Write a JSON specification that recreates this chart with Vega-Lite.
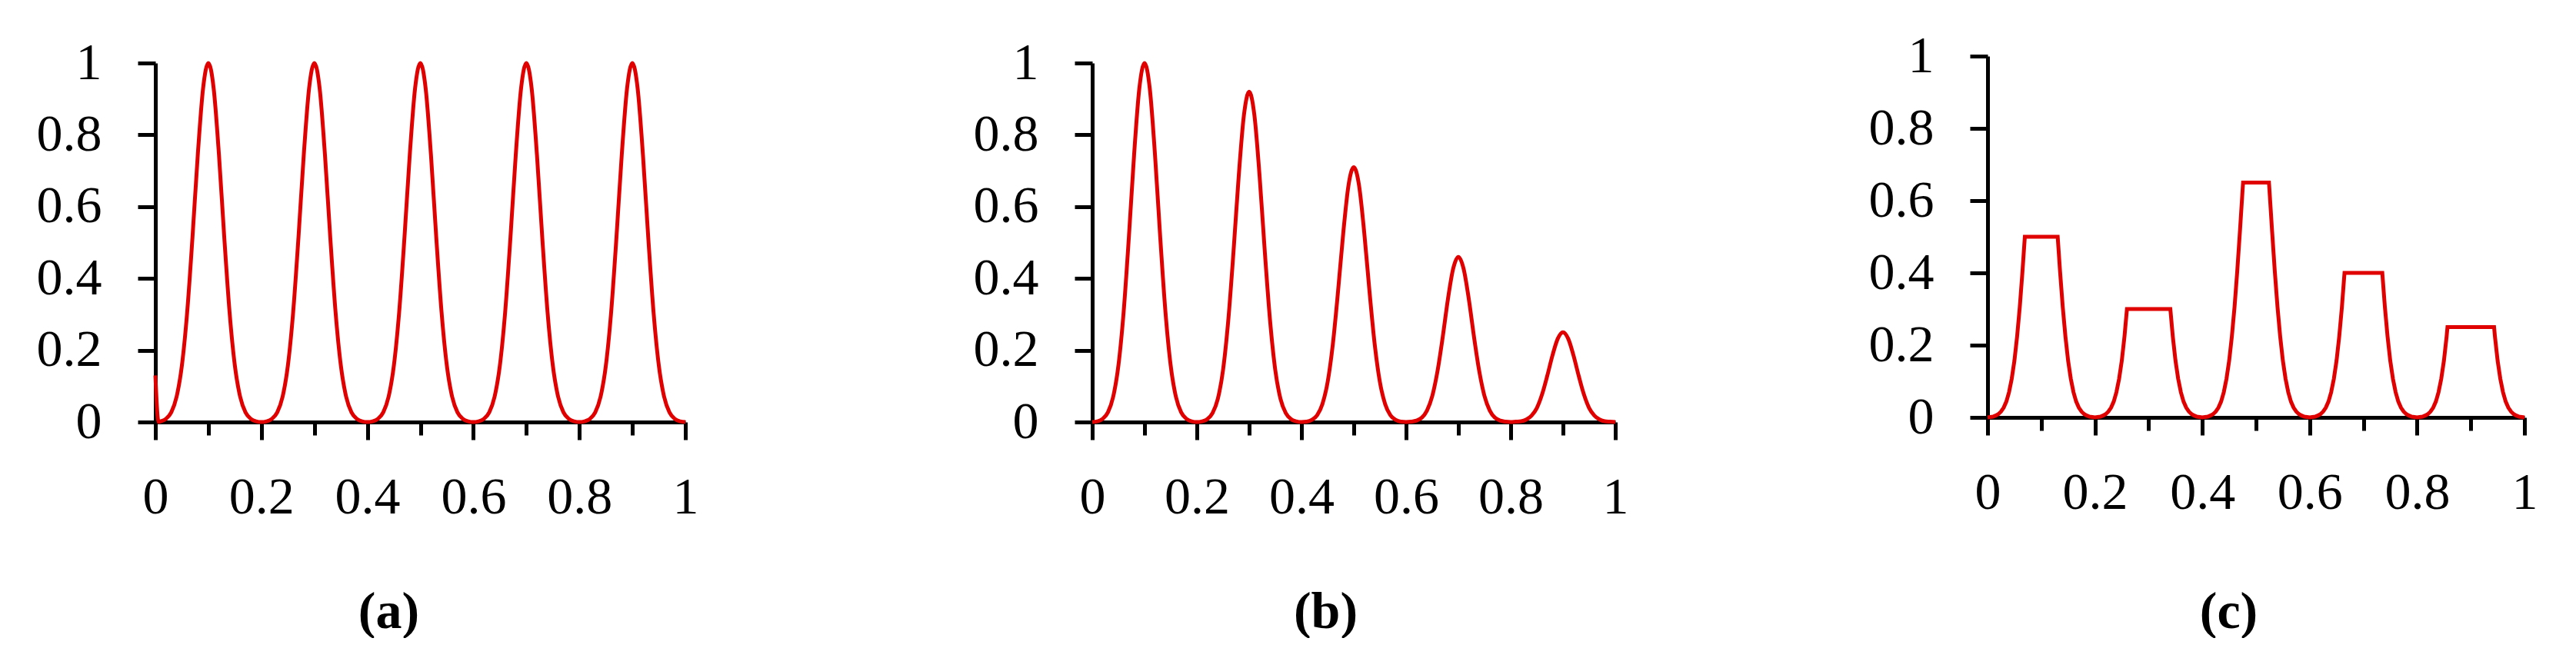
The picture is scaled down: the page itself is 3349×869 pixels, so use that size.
{
  "$schema": "https://vega.github.io/schema/vega-lite/v6.json",
  "description": "Three pulse trains: equal peaks, decaying peaks, clipped peaks.",
  "background": "white",
  "padding": {"left": 47, "top": 39, "right": 0, "bottom": 0},
  "config": {
    "view": {"stroke": null},
    "axis": {
      "grid": false,
      "domainColor": "black",
      "domainWidth": 5,
      "tickColor": "black",
      "tickWidth": 5,
      "labelColor": "black",
      "labelFont": "Liberation Serif",
      "labelFontSize": 68,
      "titleFont": "Liberation Serif",
      "titleFontSize": 68,
      "titleFontWeight": "bold",
      "titleColor": "black"
    }
  },
  "datasets": {
    "a": [
      {"x": 0, "y": 0.13}, {"x": 0.006, "y": 0}, {"x": 0.01, "y": 0.002}, {"x": 0.02, "y": 0.009}, {"x": 0.03, "y": 0.027},
      {"x": 0.04, "y": 0.07}, {"x": 0.05, "y": 0.157}, {"x": 0.06, "y": 0.306}, {"x": 0.07, "y": 0.514}, {"x": 0.08, "y": 0.744},
      {"x": 0.09, "y": 0.929}, {"x": 0.1, "y": 1}, {"x": 0.11, "y": 0.929}, {"x": 0.12, "y": 0.744}, {"x": 0.13, "y": 0.514},
      {"x": 0.14, "y": 0.306}, {"x": 0.15, "y": 0.157}, {"x": 0.16, "y": 0.07}, {"x": 0.17, "y": 0.027}, {"x": 0.18, "y": 0.009},
      {"x": 0.19, "y": 0.002}, {"x": 0.2, "y": 0},
      {"x": 0.21, "y": 0.002}, {"x": 0.22, "y": 0.009}, {"x": 0.23, "y": 0.027}, {"x": 0.24, "y": 0.07}, {"x": 0.25, "y": 0.157},
      {"x": 0.26, "y": 0.306}, {"x": 0.27, "y": 0.514}, {"x": 0.28, "y": 0.744}, {"x": 0.29, "y": 0.929}, {"x": 0.3, "y": 1},
      {"x": 0.31, "y": 0.929}, {"x": 0.32, "y": 0.744}, {"x": 0.33, "y": 0.514}, {"x": 0.34, "y": 0.306}, {"x": 0.35, "y": 0.157},
      {"x": 0.36, "y": 0.07}, {"x": 0.37, "y": 0.027}, {"x": 0.38, "y": 0.009}, {"x": 0.39, "y": 0.002}, {"x": 0.4, "y": 0},
      {"x": 0.41, "y": 0.002}, {"x": 0.42, "y": 0.009}, {"x": 0.43, "y": 0.027}, {"x": 0.44, "y": 0.07}, {"x": 0.45, "y": 0.157},
      {"x": 0.46, "y": 0.306}, {"x": 0.47, "y": 0.514}, {"x": 0.48, "y": 0.744}, {"x": 0.49, "y": 0.929}, {"x": 0.5, "y": 1},
      {"x": 0.51, "y": 0.929}, {"x": 0.52, "y": 0.744}, {"x": 0.53, "y": 0.514}, {"x": 0.54, "y": 0.306}, {"x": 0.55, "y": 0.157},
      {"x": 0.56, "y": 0.07}, {"x": 0.57, "y": 0.027}, {"x": 0.58, "y": 0.009}, {"x": 0.59, "y": 0.002}, {"x": 0.6, "y": 0},
      {"x": 0.61, "y": 0.002}, {"x": 0.62, "y": 0.009}, {"x": 0.63, "y": 0.027}, {"x": 0.64, "y": 0.07}, {"x": 0.65, "y": 0.157},
      {"x": 0.66, "y": 0.306}, {"x": 0.67, "y": 0.514}, {"x": 0.68, "y": 0.744}, {"x": 0.69, "y": 0.929}, {"x": 0.7, "y": 1},
      {"x": 0.71, "y": 0.929}, {"x": 0.72, "y": 0.744}, {"x": 0.73, "y": 0.514}, {"x": 0.74, "y": 0.306}, {"x": 0.75, "y": 0.157},
      {"x": 0.76, "y": 0.07}, {"x": 0.77, "y": 0.027}, {"x": 0.78, "y": 0.009}, {"x": 0.79, "y": 0.002}, {"x": 0.8, "y": 0},
      {"x": 0.81, "y": 0.002}, {"x": 0.82, "y": 0.009}, {"x": 0.83, "y": 0.027}, {"x": 0.84, "y": 0.07}, {"x": 0.85, "y": 0.157},
      {"x": 0.86, "y": 0.306}, {"x": 0.87, "y": 0.514}, {"x": 0.88, "y": 0.744}, {"x": 0.89, "y": 0.929}, {"x": 0.9, "y": 1},
      {"x": 0.91, "y": 0.929}, {"x": 0.92, "y": 0.744}, {"x": 0.93, "y": 0.514}, {"x": 0.94, "y": 0.306}, {"x": 0.95, "y": 0.157},
      {"x": 0.96, "y": 0.07}, {"x": 0.97, "y": 0.027}, {"x": 0.98, "y": 0.009}, {"x": 0.99, "y": 0.002}, {"x": 1, "y": 0}
    ],
    "b": [
      {"x": 0, "y": 0}, {"x": 0.01, "y": 0.002}, {"x": 0.02, "y": 0.009}, {"x": 0.03, "y": 0.027},
      {"x": 0.04, "y": 0.07}, {"x": 0.05, "y": 0.157}, {"x": 0.06, "y": 0.306}, {"x": 0.07, "y": 0.514}, {"x": 0.08, "y": 0.744},
      {"x": 0.09, "y": 0.929}, {"x": 0.1, "y": 1}, {"x": 0.11, "y": 0.929}, {"x": 0.12, "y": 0.744}, {"x": 0.13, "y": 0.514},
      {"x": 0.14, "y": 0.306}, {"x": 0.15, "y": 0.157}, {"x": 0.16, "y": 0.07}, {"x": 0.17, "y": 0.027}, {"x": 0.18, "y": 0.009},
      {"x": 0.19, "y": 0.002}, {"x": 0.2, "y": 0},
      {"x": 0.21, "y": 0.002}, {"x": 0.22, "y": 0.008}, {"x": 0.23, "y": 0.025}, {"x": 0.24, "y": 0.064}, {"x": 0.25, "y": 0.144},
      {"x": 0.26, "y": 0.282}, {"x": 0.27, "y": 0.473}, {"x": 0.28, "y": 0.684}, {"x": 0.29, "y": 0.855}, {"x": 0.3, "y": 0.92},
      {"x": 0.31, "y": 0.855}, {"x": 0.32, "y": 0.684}, {"x": 0.33, "y": 0.473}, {"x": 0.34, "y": 0.282}, {"x": 0.35, "y": 0.144},
      {"x": 0.36, "y": 0.064}, {"x": 0.37, "y": 0.025}, {"x": 0.38, "y": 0.008}, {"x": 0.39, "y": 0.002}, {"x": 0.4, "y": 0},
      {"x": 0.41, "y": 0.001}, {"x": 0.42, "y": 0.006}, {"x": 0.43, "y": 0.019}, {"x": 0.44, "y": 0.05}, {"x": 0.45, "y": 0.111},
      {"x": 0.46, "y": 0.217}, {"x": 0.47, "y": 0.365}, {"x": 0.48, "y": 0.528}, {"x": 0.49, "y": 0.66}, {"x": 0.5, "y": 0.71},
      {"x": 0.51, "y": 0.66}, {"x": 0.52, "y": 0.528}, {"x": 0.53, "y": 0.365}, {"x": 0.54, "y": 0.217}, {"x": 0.55, "y": 0.111},
      {"x": 0.56, "y": 0.05}, {"x": 0.57, "y": 0.019}, {"x": 0.58, "y": 0.006}, {"x": 0.59, "y": 0.001}, {"x": 0.6, "y": 0},
      {"x": 0.61, "y": 0.001}, {"x": 0.62, "y": 0.004}, {"x": 0.63, "y": 0.012}, {"x": 0.64, "y": 0.032}, {"x": 0.65, "y": 0.072},
      {"x": 0.66, "y": 0.141}, {"x": 0.67, "y": 0.236}, {"x": 0.68, "y": 0.342}, {"x": 0.69, "y": 0.427}, {"x": 0.7, "y": 0.46},
      {"x": 0.71, "y": 0.427}, {"x": 0.72, "y": 0.342}, {"x": 0.73, "y": 0.236}, {"x": 0.74, "y": 0.141}, {"x": 0.75, "y": 0.072},
      {"x": 0.76, "y": 0.032}, {"x": 0.77, "y": 0.012}, {"x": 0.78, "y": 0.004}, {"x": 0.79, "y": 0.001}, {"x": 0.8, "y": 0},
      {"x": 0.81, "y": 0.001}, {"x": 0.82, "y": 0.002}, {"x": 0.83, "y": 0.007}, {"x": 0.84, "y": 0.018}, {"x": 0.85, "y": 0.039},
      {"x": 0.86, "y": 0.077}, {"x": 0.87, "y": 0.129}, {"x": 0.88, "y": 0.186}, {"x": 0.89, "y": 0.232}, {"x": 0.9, "y": 0.25},
      {"x": 0.91, "y": 0.232}, {"x": 0.92, "y": 0.186}, {"x": 0.93, "y": 0.129}, {"x": 0.94, "y": 0.077}, {"x": 0.95, "y": 0.039},
      {"x": 0.96, "y": 0.018}, {"x": 0.97, "y": 0.007}, {"x": 0.98, "y": 0.002}, {"x": 0.99, "y": 0.001}, {"x": 1, "y": 0}
    ],
    "c": [
      {"x": 0, "y": 0}, {"x": 0.005, "y": 0.001}, {"x": 0.01, "y": 0.002}, {"x": 0.015, "y": 0.005}, {"x": 0.02, "y": 0.009},
      {"x": 0.025, "y": 0.016}, {"x": 0.03, "y": 0.027}, {"x": 0.035, "y": 0.044}, {"x": 0.04, "y": 0.07}, {"x": 0.045, "y": 0.107},
      {"x": 0.05, "y": 0.157}, {"x": 0.055, "y": 0.224}, {"x": 0.06, "y": 0.306}, {"x": 0.065, "y": 0.404}, {"x": 0.0694, "y": 0.5},
      {"x": 0.1306, "y": 0.5}, {"x": 0.135, "y": 0.404}, {"x": 0.14, "y": 0.306}, {"x": 0.145, "y": 0.224}, {"x": 0.15, "y": 0.157},
      {"x": 0.155, "y": 0.107}, {"x": 0.16, "y": 0.07}, {"x": 0.165, "y": 0.044}, {"x": 0.17, "y": 0.027}, {"x": 0.175, "y": 0.016},
      {"x": 0.18, "y": 0.009}, {"x": 0.185, "y": 0.005}, {"x": 0.19, "y": 0.002}, {"x": 0.195, "y": 0.001}, {"x": 0.2, "y": 0},
      {"x": 0.205, "y": 0.001}, {"x": 0.21, "y": 0.002}, {"x": 0.215, "y": 0.005}, {"x": 0.22, "y": 0.009}, {"x": 0.225, "y": 0.016},
      {"x": 0.23, "y": 0.027}, {"x": 0.235, "y": 0.044}, {"x": 0.24, "y": 0.07}, {"x": 0.245, "y": 0.107}, {"x": 0.25, "y": 0.157},
      {"x": 0.255, "y": 0.224}, {"x": 0.2596, "y": 0.3}, {"x": 0.3404, "y": 0.3}, {"x": 0.345, "y": 0.224}, {"x": 0.35, "y": 0.157},
      {"x": 0.355, "y": 0.107}, {"x": 0.36, "y": 0.07}, {"x": 0.365, "y": 0.044}, {"x": 0.37, "y": 0.027}, {"x": 0.375, "y": 0.016},
      {"x": 0.38, "y": 0.009}, {"x": 0.385, "y": 0.005}, {"x": 0.39, "y": 0.002}, {"x": 0.395, "y": 0.001}, {"x": 0.4, "y": 0},
      {"x": 0.405, "y": 0.001}, {"x": 0.41, "y": 0.002}, {"x": 0.415, "y": 0.005}, {"x": 0.42, "y": 0.009}, {"x": 0.425, "y": 0.016},
      {"x": 0.43, "y": 0.027}, {"x": 0.435, "y": 0.044}, {"x": 0.44, "y": 0.07}, {"x": 0.445, "y": 0.107}, {"x": 0.45, "y": 0.157},
      {"x": 0.455, "y": 0.224}, {"x": 0.46, "y": 0.306}, {"x": 0.465, "y": 0.404}, {"x": 0.47, "y": 0.514}, {"x": 0.475, "y": 0.63},
      {"x": 0.4759, "y": 0.65}, {"x": 0.5241, "y": 0.65}, {"x": 0.525, "y": 0.63}, {"x": 0.53, "y": 0.514}, {"x": 0.535, "y": 0.404},
      {"x": 0.54, "y": 0.306}, {"x": 0.545, "y": 0.224}, {"x": 0.55, "y": 0.157}, {"x": 0.555, "y": 0.107}, {"x": 0.56, "y": 0.07},
      {"x": 0.565, "y": 0.044}, {"x": 0.57, "y": 0.027}, {"x": 0.575, "y": 0.016}, {"x": 0.58, "y": 0.009}, {"x": 0.585, "y": 0.005},
      {"x": 0.59, "y": 0.002}, {"x": 0.595, "y": 0.001}, {"x": 0.6, "y": 0},
      {"x": 0.605, "y": 0.001}, {"x": 0.61, "y": 0.002}, {"x": 0.615, "y": 0.005}, {"x": 0.62, "y": 0.009}, {"x": 0.625, "y": 0.016},
      {"x": 0.63, "y": 0.027}, {"x": 0.635, "y": 0.044}, {"x": 0.64, "y": 0.07}, {"x": 0.645, "y": 0.107}, {"x": 0.65, "y": 0.157},
      {"x": 0.655, "y": 0.224}, {"x": 0.66, "y": 0.306}, {"x": 0.6648, "y": 0.4}, {"x": 0.7352, "y": 0.4}, {"x": 0.74, "y": 0.306},
      {"x": 0.745, "y": 0.224}, {"x": 0.75, "y": 0.157}, {"x": 0.755, "y": 0.107}, {"x": 0.76, "y": 0.07}, {"x": 0.765, "y": 0.044},
      {"x": 0.77, "y": 0.027}, {"x": 0.775, "y": 0.016}, {"x": 0.78, "y": 0.009}, {"x": 0.785, "y": 0.005}, {"x": 0.79, "y": 0.002},
      {"x": 0.795, "y": 0.001}, {"x": 0.8, "y": 0},
      {"x": 0.805, "y": 0.001}, {"x": 0.81, "y": 0.002}, {"x": 0.815, "y": 0.005}, {"x": 0.82, "y": 0.009}, {"x": 0.825, "y": 0.016},
      {"x": 0.83, "y": 0.027}, {"x": 0.835, "y": 0.044}, {"x": 0.84, "y": 0.07}, {"x": 0.845, "y": 0.107}, {"x": 0.85, "y": 0.157},
      {"x": 0.855, "y": 0.224}, {"x": 0.8566, "y": 0.25}, {"x": 0.9434, "y": 0.25}, {"x": 0.945, "y": 0.224}, {"x": 0.95, "y": 0.157},
      {"x": 0.955, "y": 0.107}, {"x": 0.96, "y": 0.07}, {"x": 0.965, "y": 0.044}, {"x": 0.97, "y": 0.027}, {"x": 0.975, "y": 0.016},
      {"x": 0.98, "y": 0.009}, {"x": 0.985, "y": 0.005}, {"x": 0.99, "y": 0.002}, {"x": 0.995, "y": 0.001}, {"x": 1, "y": 0}
    ]
  },
  "bounds": "flush",
  "spacing": 484,
  "hconcat": [
    {
      "width": 689,
      "height": 476,
      "data": {"name": "a"},
      "mark": {"type": "line", "color": "#e00000", "strokeWidth": 5, "interpolate": "monotone"},
      "encoding": {
        "x": {
          "field": "x", "type": "quantitative",
          "scale": {"domain": [0, 1], "nice": false, "zero": false},
          "axis": {
            "title": "(a)", "titleX": 303, "titleY": 247, "titleBaseline": "middle",
            "values": [0, 0.1, 0.2, 0.3, 0.4, 0.5, 0.6, 0.7, 0.8, 0.9, 1],
            "format": "~g",
            "labelExpr": "round(datum.value * 10) % 2 === 0 ? datum.label : ''",
            "tickSize": {"condition": {"test": "round(datum.value * 10) % 2 === 0", "value": 23}, "value": 17},
            "labelPadding": 41, "labelFlush": false, "labelOverlap": false
          }
        },
        "y": {
          "field": "y", "type": "quantitative",
          "scale": {"domain": [0, 1], "nice": false, "range": [476, 9]},
          "axis": {"title": null, "values": [0, 0.2, 0.4, 0.6, 0.8, 1], "format": "~g", "tickSize": 23, "labelPadding": 47}
        }
      }
    },
    {
      "width": 725,
      "height": 476,
      "data": {"name": "b"},
      "mark": {"type": "line", "color": "#e00000", "strokeWidth": 5, "interpolate": "monotone"},
      "encoding": {
        "x": {
          "field": "x", "type": "quantitative",
          "scale": {"domain": [0, 1], "nice": false, "zero": false, "range": [45, 725]},
          "axis": {
            "title": "(b)", "titleX": 348, "titleY": 247, "titleBaseline": "middle",
            "values": [0, 0.1, 0.2, 0.3, 0.4, 0.5, 0.6, 0.7, 0.8, 0.9, 1],
            "format": "~g",
            "labelExpr": "round(datum.value * 10) % 2 === 0 ? datum.label : ''",
            "tickSize": {"condition": {"test": "round(datum.value * 10) % 2 === 0", "value": 23}, "value": 17},
            "labelPadding": 41, "labelFlush": false, "labelOverlap": false
          }
        },
        "y": {
          "field": "y", "type": "quantitative",
          "scale": {"domain": [0, 1], "nice": false, "range": [476, 9]},
          "axis": {"title": null, "offset": -45, "values": [0, 0.2, 0.4, 0.6, 0.8, 1], "format": "~g", "tickSize": 23, "labelPadding": 47}
        }
      }
    },
    {
      "width": 698,
      "height": 470,
      "data": {"name": "c"},
      "mark": {"type": "line", "color": "#e00000", "strokeWidth": 5, "interpolate": "linear"},
      "encoding": {
        "x": {
          "field": "x", "type": "quantitative",
          "scale": {"domain": [0, 1], "nice": false, "zero": false},
          "axis": {
            "title": "(c)", "titleX": 313, "titleY": 253, "titleBaseline": "middle",
            "values": [0, 0.1, 0.2, 0.3, 0.4, 0.5, 0.6, 0.7, 0.8, 0.9, 1],
            "format": "~g",
            "labelExpr": "round(datum.value * 10) % 2 === 0 ? datum.label : ''",
            "tickSize": {"condition": {"test": "round(datum.value * 10) % 2 === 0", "value": 23}, "value": 17},
            "labelPadding": 41, "labelFlush": false, "labelOverlap": false
          }
        },
        "y": {
          "field": "y", "type": "quantitative",
          "scale": {"domain": [0, 1], "nice": false},
          "axis": {"title": null, "values": [0, 0.2, 0.4, 0.6, 0.8, 1], "format": "~g", "tickSize": 23, "labelPadding": 47}
        }
      }
    }
  ]
}
